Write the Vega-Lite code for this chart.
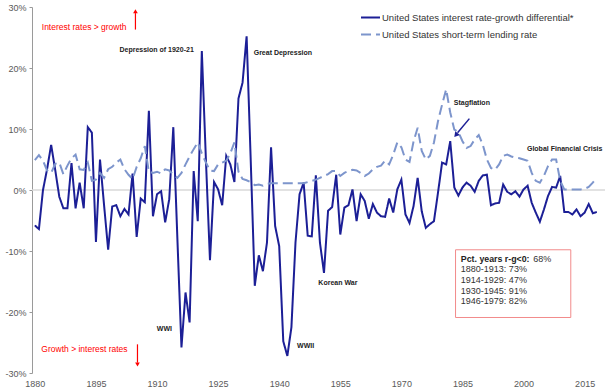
{
  "$schema": "https://vega.github.io/schema/vega-lite/v6.json",
  "width": 573,
  "height": 366,
  "autosize": {"type": "none"},
  "padding": {"left": 32, "top": 7, "right": 3, "bottom": 16},
  "background": "white",
  "config": {
    "view": {"stroke": null},
    "font": "Liberation Sans",
    "legend": {
      "orient": "none", "legendX": 328, "legendY": 0, "title": null,
      "symbolType": "stroke", "symbolSize": 361, "symbolStrokeWidth": 2,
      "labelFontSize": 9.5, "labelFont": "Liberation Sans", "labelColor": "#333333",
      "labelOffset": 1, "rowPadding": 2, "padding": 0, "labelLimit": 400
    }
  },
  "datasets": {
    "main": [
      {"year":1880,"diff":-5.8,"rate":4.9},{"year":1881,"diff":-6.4,"rate":5.7},{"year":1882,"diff":0.0,"rate":4.8},
      {"year":1883,"diff":3.4,"rate":3.2},{"year":1884,"diff":7.4,"rate":2.8},{"year":1885,"diff":3.3,"rate":4.3},
      {"year":1886,"diff":-1.1,"rate":4.5},{"year":1887,"diff":-3.0,"rate":2.6},{"year":1888,"diff":-3.0,"rate":4.0},
      {"year":1889,"diff":4.4,"rate":5.2},{"year":1890,"diff":-3.0,"rate":5.8},{"year":1891,"diff":1.2,"rate":3.4},
      {"year":1892,"diff":-3.0,"rate":3.3},{"year":1893,"diff":10.3,"rate":4.5},{"year":1894,"diff":9.4,"rate":1.5},
      {"year":1895,"diff":-8.5,"rate":1.7},{"year":1896,"diff":5.0,"rate":2.8},{"year":1897,"diff":-2.5,"rate":2.0},
      {"year":1898,"diff":-9.8,"rate":3.4},{"year":1899,"diff":-2.7,"rate":3.8},{"year":1900,"diff":-2.5,"rate":4.5},
      {"year":1901,"diff":-4.3,"rate":5.0},{"year":1902,"diff":-3.1,"rate":3.4},{"year":1903,"diff":-4.0,"rate":2.5},
      {"year":1904,"diff":2.7,"rate":1.8},{"year":1905,"diff":-7.7,"rate":3.8},{"year":1906,"diff":-1.4,"rate":5.2},
      {"year":1907,"diff":-2.0,"rate":7.2},{"year":1908,"diff":13.0,"rate":3.0},{"year":1909,"diff":-4.3,"rate":2.8},
      {"year":1910,"diff":-0.7,"rate":3.0},{"year":1911,"diff":-0.2,"rate":2.7},{"year":1912,"diff":-5.3,"rate":3.4},
      {"year":1913,"diff":-1.5,"rate":3.2},{"year":1914,"diff":10.3,"rate":2.5},{"year":1915,"diff":-8.0,"rate":2.0},
      {"year":1916,"diff":-25.8,"rate":2.8},{"year":1917,"diff":-16.8,"rate":4.2},{"year":1918,"diff":-21.7,"rate":5.5},
      {"year":1919,"diff":3.1,"rate":6.7},{"year":1920,"diff":-5.1,"rate":7.8},{"year":1921,"diff":22.8,"rate":6.0},
      {"year":1922,"diff":5.0,"rate":4.5},{"year":1923,"diff":-11.5,"rate":3.2},{"year":1924,"diff":1.3,"rate":3.1},
      {"year":1925,"diff":0.1,"rate":4.2},{"year":1926,"diff":-2.5,"rate":4.5},{"year":1927,"diff":5.6,"rate":4.8},
      {"year":1928,"diff":4.2,"rate":6.0},{"year":1929,"diff":1.3,"rate":7.8},{"year":1930,"diff":15.0,"rate":3.0},
      {"year":1931,"diff":17.6,"rate":1.8},{"year":1932,"diff":25.2,"rate":1.6},{"year":1933,"diff":5.0,"rate":1.3},
      {"year":1934,"diff":-15.7,"rate":0.8},{"year":1935,"diff":-10.7,"rate":0.9},{"year":1936,"diff":-13.3,"rate":0.7},
      {"year":1937,"diff":-8.6,"rate":1.0},{"year":1938,"diff":7.0,"rate":1.1},{"year":1939,"diff":-5.9,"rate":1.1},
      {"year":1940,"diff":-9.2,"rate":1.1},{"year":1941,"diff":-24.8,"rate":1.1},{"year":1942,"diff":-27.2,"rate":1.1},
      {"year":1943,"diff":-22.5,"rate":1.1},{"year":1944,"diff":-8.6,"rate":1.1},{"year":1945,"diff":-0.7,"rate":1.1},
      {"year":1946,"diff":1.2,"rate":1.1},{"year":1947,"diff":-7.5,"rate":1.3},{"year":1948,"diff":-7.6,"rate":1.5},
      {"year":1949,"diff":2.4,"rate":1.7},{"year":1950,"diff":-8.6,"rate":2.0},{"year":1951,"diff":-13.6,"rate":2.3},
      {"year":1952,"diff":-3.4,"rate":2.6},{"year":1953,"diff":-2.8,"rate":3.1},{"year":1954,"diff":2.5,"rate":3.1},
      {"year":1955,"diff":-7.3,"rate":2.3},{"year":1956,"diff":-2.9,"rate":2.8},{"year":1957,"diff":-2.5,"rate":3.1},
      {"year":1958,"diff":0.1,"rate":3.3},{"year":1959,"diff":-5.1,"rate":3.2},{"year":1960,"diff":-0.7,"rate":2.8},
      {"year":1961,"diff":-1.8,"rate":2.3},{"year":1962,"diff":-4.7,"rate":2.7},{"year":1963,"diff":-2.3,"rate":3.4},
      {"year":1964,"diff":-3.7,"rate":3.8},{"year":1965,"diff":-4.3,"rate":4.0},{"year":1966,"diff":-4.4,"rate":4.8},
      {"year":1967,"diff":-1.4,"rate":4.2},{"year":1968,"diff":-3.7,"rate":5.8},{"year":1969,"diff":0.1,"rate":7.8},
      {"year":1970,"diff":1.7,"rate":7.0},{"year":1971,"diff":-4.0,"rate":5.0},{"year":1972,"diff":-5.4,"rate":4.6},
      {"year":1973,"diff":-2.6,"rate":8.0},{"year":1974,"diff":2.0,"rate":10.2},{"year":1975,"diff":-3.5,"rate":6.4},
      {"year":1976,"diff":-6.2,"rate":5.0},{"year":1977,"diff":-5.6,"rate":5.6},{"year":1978,"diff":-5.1,"rate":7.8},
      {"year":1979,"diff":-0.4,"rate":11.3},{"year":1980,"diff":4.5,"rate":14.0},{"year":1981,"diff":4.2,"rate":16.5},
      {"year":1982,"diff":8.0,"rate":12.7},{"year":1983,"diff":0.4,"rate":9.9},{"year":1984,"diff":-0.9,"rate":9.5},
      {"year":1985,"diff":0.4,"rate":8.0},{"year":1986,"diff":1.2,"rate":6.9},{"year":1987,"diff":0.7,"rate":7.2},
      {"year":1988,"diff":-0.3,"rate":8.3},{"year":1989,"diff":1.5,"rate":9.0},{"year":1990,"diff":2.4,"rate":7.4},
      {"year":1991,"diff":2.5,"rate":5.0},{"year":1992,"diff":-2.5,"rate":3.6},{"year":1993,"diff":-2.2,"rate":3.3},
      {"year":1994,"diff":-2.1,"rate":4.2},{"year":1995,"diff":0.9,"rate":5.6},{"year":1996,"diff":-0.3,"rate":5.8},
      {"year":1997,"diff":-0.7,"rate":5.5},{"year":1998,"diff":-0.2,"rate":5.3},{"year":1999,"diff":-1.1,"rate":5.2},
      {"year":2000,"diff":0.1,"rate":5.0},{"year":2001,"diff":0.7,"rate":4.8},{"year":2002,"diff":-2.1,"rate":2.8},
      {"year":2003,"diff":-3.7,"rate":1.5},{"year":2004,"diff":-5.2,"rate":1.2},{"year":2005,"diff":-3.2,"rate":2.3},
      {"year":2006,"diff":-1.0,"rate":3.9},{"year":2007,"diff":0.5,"rate":5.0},{"year":2008,"diff":0.4,"rate":5.0},
      {"year":2009,"diff":2.3,"rate":1.5},{"year":2010,"diff":-3.6,"rate":0.1},{"year":2011,"diff":-3.6,"rate":0.1},
      {"year":2012,"diff":-4.0,"rate":0.1},{"year":2013,"diff":-3.2,"rate":0.1},{"year":2014,"diff":-4.3,"rate":0.1},
      {"year":2015,"diff":-3.7,"rate":0.2},{"year":2016,"diff":-2.3,"rate":0.5},{"year":2017,"diff":-3.8,"rate":1.2},
      {"year":2018,"diff":-3.6,"rate":2.0}
    ],
    "redText": [
      {"year": 1881.7, "value": 26.7, "text": "Interest rates > growth"},
      {"year": 1881.6, "value": -26.0, "text": "Growth > interest rates"}
    ],
    "events": [
      {"year": 1909.9, "value": 23.0, "text": "Depression of 1920-21"},
      {"year": 1940.9, "value": 22.4, "text": "Great Depression"},
      {"year": 1911.8, "value": -22.8, "text": "WWI"},
      {"year": 1946.5, "value": -25.6, "text": "WWII"},
      {"year": 1954.4, "value": -15.3, "text": "Korean War"},
      {"year": 1987.3, "value": 14.3, "text": "Stagflation"},
      {"year": 2010.1, "value": 6.8, "text": "Global Financial Crisis"}
    ],
    "box": [{"year": 1983.3, "year2": 2011.6, "value": -9.8, "value2": -20.9}],
    "boxBold": [{"year": 1984.6, "value": -11.25, "text": "Pct. years r-g<0:"}],
    "boxText": [
      {"year": 2002.4, "value": -11.25, "text": "68%"},
      {"year": 1984.6, "value": -13.0, "text": "1880-1913: 73%"},
      {"year": 1984.6, "value": -14.75, "text": "1914-1929: 47%"},
      {"year": 1984.6, "value": -16.5, "text": "1930-1945: 91%"},
      {"year": 1984.6, "value": -18.2, "text": "1946-1979: 82%"}
    ],
    "redShafts": [
      {"year": 1904.7, "value": 26.3, "value2": 29.0},
      {"year": 1905.2, "value": -25.3, "value2": -28.3}
    ],
    "upHead": [{"year": 1904.7, "value": 29.3}],
    "downHead": [{"year": 1905.2, "value": -28.6}],
    "blueShaft": [{"year": 1986.7, "value": 11.7, "year2": 1983.8, "value2": 9.4}],
    "blueHead": [{"year": 1983.4, "value": 9.0}],
    "zero": [{"value": 0}]
  },
  "layer": [
    {
      "data": {"name": "zero"},
      "mark": {"type": "rule", "color": "#d9d9d9", "strokeWidth": 1.5},
      "encoding": {
        "y": {"field": "value", "type": "quantitative", "title": null}
      }
    },
    {
      "data": {"name": "main"},
      "transform": [{"fold": ["diff", "rate"], "as": ["series", "value"]}],
      "mark": {"type": "line", "strokeWidth": 2},
      "encoding": {
        "x": {
          "field": "year", "type": "quantitative",
          "scale": {"domain": [1879.3, 2020], "nice": false, "zero": false},
          "axis": {
            "title": null, "values": [1880, 1895, 1910, 1925, 1940, 1955, 1970, 1985, 2000, 2015],
            "format": "d", "domain": false, "ticks": false, "grid": false,
            "labelFontSize": 9, "labelColor": "#595959", "labelPadding": 6, "labelFont": "Liberation Sans"
          }
        },
        "y": {
          "field": "value", "type": "quantitative",
          "scale": {"domain": [-30, 30], "nice": false},
          "axis": {
            "title": null, "values": [-30, -20, -10, 0, 10, 20, 30],
            "labelExpr": "datum.value + '%'", "grid": false,
            "domainColor": "#9a9a9a", "tickColor": "#9a9a9a", "tickSize": 3,
            "labelFontSize": 9, "labelColor": "#595959", "labelPadding": 3, "labelFont": "Liberation Sans"
          }
        },
        "color": {
          "field": "series", "type": "nominal",
          "scale": {"domain": ["diff", "rate"], "range": ["#1c1f96", "#7d95cc"]},
          "legend": {"labelExpr": "datum.label == 'diff' ? 'United States interest rate-growth differential*' : 'United States short-term lending rate'"}
        },
        "strokeDash": {
          "field": "series", "type": "nominal",
          "scale": {"domain": ["diff", "rate"], "range": [[1, 0], [10, 5]]},
          "legend": {"labelExpr": "datum.label == 'diff' ? 'United States interest rate-growth differential*' : 'United States short-term lending rate'"}
        }
      }
    },
    {
      "data": {"name": "redText"},
      "mark": {"type": "text", "align": "left", "baseline": "middle", "color": "#ff0000", "fontSize": 8.5, "font": "Liberation Sans"},
      "encoding": {
        "x": {"field": "year", "type": "quantitative"},
        "y": {"field": "value", "type": "quantitative"},
        "text": {"field": "text"}
      }
    },
    {
      "data": {"name": "events"},
      "mark": {"type": "text", "align": "center", "baseline": "middle", "color": "#222222", "fontSize": 7, "fontWeight": "bold", "font": "Liberation Sans"},
      "encoding": {
        "x": {"field": "year", "type": "quantitative"},
        "y": {"field": "value", "type": "quantitative"},
        "text": {"field": "text"}
      }
    },
    {
      "data": {"name": "box"},
      "mark": {"type": "rect", "fill": "white", "stroke": "#f28b8b", "strokeWidth": 1},
      "encoding": {
        "x": {"field": "year", "type": "quantitative"},
        "x2": {"field": "year2"},
        "y": {"field": "value", "type": "quantitative"},
        "y2": {"field": "value2"}
      }
    },
    {
      "data": {"name": "boxBold"},
      "mark": {"type": "text", "align": "left", "baseline": "middle", "color": "#222222", "fontSize": 8.8, "fontWeight": "bold", "font": "Liberation Sans"},
      "encoding": {
        "x": {"field": "year", "type": "quantitative"},
        "y": {"field": "value", "type": "quantitative"},
        "text": {"field": "text"}
      }
    },
    {
      "data": {"name": "boxText"},
      "mark": {"type": "text", "align": "left", "baseline": "middle", "color": "#333333", "fontSize": 9, "font": "Liberation Sans"},
      "encoding": {
        "x": {"field": "year", "type": "quantitative"},
        "y": {"field": "value", "type": "quantitative"},
        "text": {"field": "text"}
      }
    },
    {
      "data": {"name": "redShafts"},
      "mark": {"type": "rule", "color": "#ff0000", "strokeWidth": 1.2},
      "encoding": {
        "x": {"field": "year", "type": "quantitative"},
        "y": {"field": "value", "type": "quantitative"},
        "y2": {"field": "value2"}
      }
    },
    {
      "data": {"name": "upHead"},
      "mark": {"type": "point", "shape": "triangle-up", "filled": true, "color": "#ff0000", "size": 22, "opacity": 1},
      "encoding": {
        "x": {"field": "year", "type": "quantitative"},
        "y": {"field": "value", "type": "quantitative"}
      }
    },
    {
      "data": {"name": "downHead"},
      "mark": {"type": "point", "shape": "triangle-down", "filled": true, "color": "#ff0000", "size": 22, "opacity": 1},
      "encoding": {
        "x": {"field": "year", "type": "quantitative"},
        "y": {"field": "value", "type": "quantitative"}
      }
    },
    {
      "data": {"name": "blueShaft"},
      "mark": {"type": "rule", "color": "#1c1f96", "strokeWidth": 1.5},
      "encoding": {
        "x": {"field": "year", "type": "quantitative"},
        "x2": {"field": "year2"},
        "y": {"field": "value", "type": "quantitative"},
        "y2": {"field": "value2"}
      }
    },
    {
      "data": {"name": "blueHead"},
      "mark": {"type": "point", "shape": "triangle-up", "angle": 219, "filled": true, "color": "#1c1f96", "size": 36, "opacity": 1},
      "encoding": {
        "x": {"field": "year", "type": "quantitative"},
        "y": {"field": "value", "type": "quantitative"}
      }
    }
  ]
}
